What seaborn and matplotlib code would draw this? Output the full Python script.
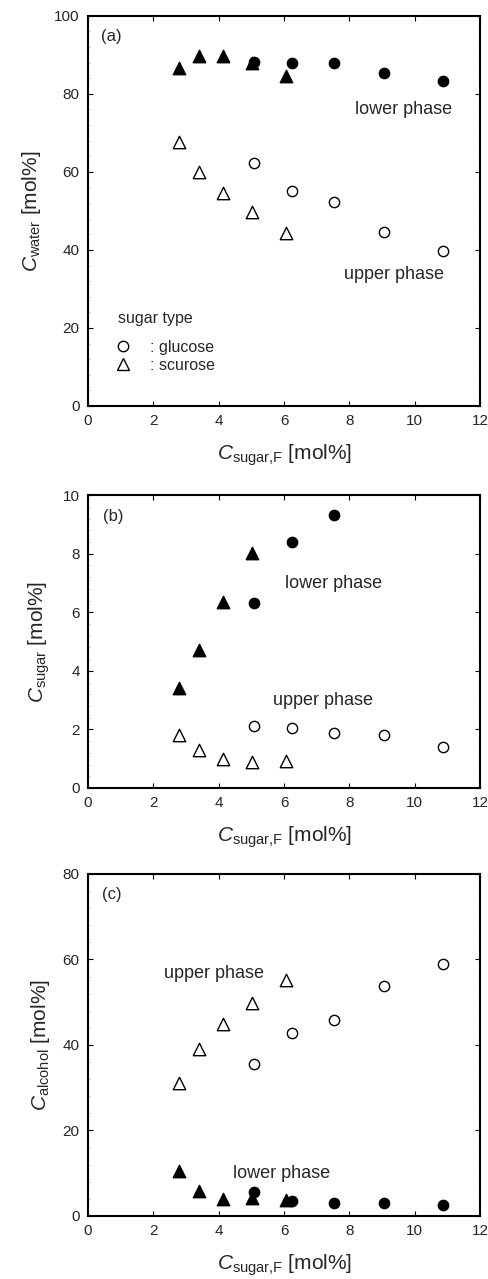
import numpy as np
import pandas as pd
import matplotlib
matplotlib.use('Agg')
import matplotlib.pyplot as plt
from matplotlib.lines import Line2D
from matplotlib.ticker import AutoMinorLocator
import seaborn as sns

sns.set_style('ticks')
plt.rcParams['font.family'] = ['Liberation Sans', 'DejaVu Sans']
plt.rcParams['mathtext.fontset'] = 'custom'
plt.rcParams['mathtext.rm'] = 'Liberation Sans'
plt.rcParams['mathtext.it'] = 'Liberation Sans:italic'

# feed sugar concentration [mol%]
x_glucose = [5.09, 6.23, 7.54, 9.06, 10.85]
x_sucrose = [2.77, 3.40, 4.14, 5.01, 6.05]

# (a) water
water_upper_glucose = [62.4, 55.2, 52.2, 44.6, 39.8]
water_upper_sucrose = [67.6, 60.1, 54.5, 49.7, 44.3]
water_lower_glucose = [88.2, 88.0, 87.9, 85.3, 83.3]
water_lower_sucrose = [86.6, 89.8, 89.8, 88.0, 84.6]

# (b) sugar
sugar_upper_glucose = [2.11, 2.06, 1.89, 1.80, 1.39]
sugar_upper_sucrose = [1.80, 1.29, 0.98, 0.89, 0.92]
sugar_lower_glucose = [6.33, 8.39, 9.32, np.nan, np.nan]
sugar_lower_sucrose = [3.43, 4.70, 6.36, 8.04, np.nan]

# (c) alcohol
alcohol_upper_glucose = [35.6, 42.9, 45.9, 53.7, 58.9]
alcohol_upper_sucrose = [31.1, 39.0, 44.8, 49.8, 55.1]
alcohol_lower_glucose = [5.5, 3.6, 3.0, 3.1, 2.5]
alcohol_lower_sucrose = [10.4, 5.8, 4.0, 4.2, 3.8]

markers = {'sucrose': '^', 'glucose': 'o'}
sizes = {'sucrose': 80, 'glucose': 55}


def make_frame(upper_g, upper_s, lower_g, lower_s):
    parts = []
    for sugar, x, up, lo in [('sucrose', x_sucrose, upper_s, lower_s),
                             ('glucose', x_glucose, upper_g, lower_g)]:
        parts.append(pd.DataFrame({'x': x, 'y': up, 'sugar': sugar, 'phase': 'upper'}))
        parts.append(pd.DataFrame({'x': x, 'y': lo, 'sugar': sugar, 'phase': 'lower'}))
    return pd.concat(parts).dropna()


def draw_points(ax, df):
    for (sugar, phase), g in df.groupby(['sugar', 'phase'], sort=False):
        fc = 'black' if phase == 'lower' else 'white'
        sns.scatterplot(data=g, x='x', y='y', marker=markers[sugar], s=sizes[sugar],
                        color=fc, edgecolor='black', linewidth=1.0,
                        ax=ax, zorder=3, legend=False)


def style_axes(ax, ymax, ystep, ylabel):
    ax.set_xlim(0, 12)
    ax.set_ylim(0, ymax)
    ax.set_xticks(np.arange(0, 13, 2))
    ax.set_yticks(np.arange(0, ymax + ystep / 2, ystep))
    ax.yaxis.set_minor_locator(AutoMinorLocator(5))
    ax.tick_params(which='major', direction='in', top=True, right=True,
                   length=3.5, width=0.8, labelsize=11, pad=6, color='black')
    ax.tick_params(which='minor', axis='y', direction='in', left=True, right=True,
                   length=1.5, width=0.5, color='#aaaaaa')
    ax.tick_params(which='minor', axis='x', bottom=False, top=False)
    for sp in ax.spines.values():
        sp.set_linewidth(1.5)
        sp.set_color('black')
    ax.set_xlabel(r'$C_{\mathrm{sugar{,}F}}$ [mol%]', fontsize=15, labelpad=10)
    ax.set_ylabel(ylabel, fontsize=15, labelpad=8)
    ax.grid(False)


fig = plt.figure(figsize=(4.89, 12.79), dpi=100)
ax_a = fig.add_axes([0.180, 0.6826, 0.802, 0.305])
ax_b = fig.add_axes([0.180, 0.3839, 0.802, 0.229])
ax_c = fig.add_axes([0.180, 0.0493, 0.802, 0.2674])

# (a)
df_a = make_frame(water_upper_glucose, water_upper_sucrose,
                  water_lower_glucose, water_lower_sucrose)
draw_points(ax_a, df_a)
style_axes(ax_a, 100, 20, r'$C_{\mathrm{water}}$ [mol%]')
ax_a.text(0.72, 94.7, '(a)', fontsize=12, ha='center', va='center')
ax_a.text(9.65, 75.9, 'lower phase', fontsize=13, ha='center', va='center')
ax_a.text(9.35, 33.8, 'upper phase', fontsize=13, ha='center', va='center')
ax_a.text(0.93, 22.5, 'sugar type', fontsize=11.5, ha='left', va='center')
handles = [Line2D([], [], marker='o', ls='none', mfc='white', mec='black', ms=7.5, mew=1.0),
           Line2D([], [], marker='^', ls='none', mfc='white', mec='black', ms=8.5, mew=1.0)]
ax_a.legend(handles, [': glucose', ': scurose'], loc='center left',
            bbox_to_anchor=(0.0696, 0.1275), frameon=False, fontsize=11.5,
            borderpad=0, borderaxespad=0, handlelength=1.0, handletextpad=1.17,
            labelspacing=0.2)

# (b)
df_b = make_frame(sugar_upper_glucose, sugar_upper_sucrose,
                  sugar_lower_glucose, sugar_lower_sucrose)
draw_points(ax_b, df_b)
style_axes(ax_b, 10, 2, r'$C_{\mathrm{sugar}}$ [mol%]')
ax_b.text(0.78, 9.28, '(b)', fontsize=12, ha='center', va='center')
ax_b.text(7.51, 6.98, 'lower phase', fontsize=13, ha='center', va='center')
ax_b.text(7.2, 3.0, 'upper phase', fontsize=13, ha='center', va='center')

# (c)
df_c = make_frame(alcohol_upper_glucose, alcohol_upper_sucrose,
                  alcohol_lower_glucose, alcohol_lower_sucrose)
draw_points(ax_c, df_c)
style_axes(ax_c, 80, 20, r'$C_{\mathrm{alcohol}}$ [mol%]')
ax_c.text(0.74, 75.1, '(c)', fontsize=12, ha='center', va='center')
ax_c.text(3.84, 56.8, 'upper phase', fontsize=13, ha='center', va='center')
ax_c.text(5.93, 9.9, 'lower phase', fontsize=13, ha='center', va='center')

fig.savefig('out.png', dpi=100)
